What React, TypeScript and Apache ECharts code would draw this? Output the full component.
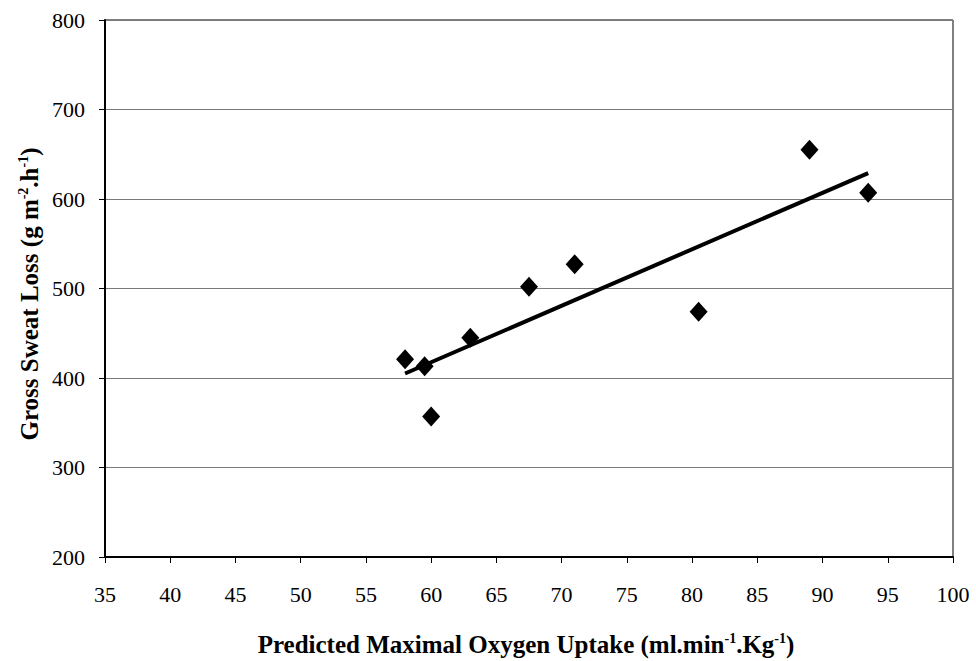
import React, { useEffect, useRef } from "react";
import * as echarts from "echarts";

const vo2Values = [58, 59.5, 60, 63, 67.5, 71, 80.5, 89, 93.5];
const sweatValues = [421, 413, 357, 445, 502, 527, 474, 655, 607];
const trendX = [58, 93.5];
const trendY = [405, 629];
const xTitle = "Predicted Maximal Oxygen Uptake (ml.min{sup|-1}.Kg{sup|-1})";
const yTitle = "Gross Sweat Loss (g m{sup|-2}.h{sup|-1})";

const FONT = "'Liberation Serif', 'Times New Roman', serif";

export default function App() {
  const ref = useRef<HTMLDivElement>(null);
  useEffect(() => {
    if (!ref.current) return;
    const chart = echarts.init(ref.current, undefined, { renderer: "svg" });
    const points = vo2Values.map((v, i) => [v, sweatValues[i]]);
    const trend = trendX.map((v, i) => [v, trendY[i]]);
    const supStyle = { fontSize: 14, fontWeight: "bold", fontFamily: FONT, verticalAlign: "top", fill: "#000" };
    chart.setOption({
      animation: false,
      backgroundColor: "#fff",
      grid: {
        left: 105,
        top: 20,
        right: 23,
        bottom: 104,
        show: true,
        borderColor: "#000",
        borderWidth: 1,
      },
      xAxis: {
        type: "value",
        min: 35,
        max: 100,
        interval: 5,
        axisLine: { show: true, onZero: false, lineStyle: { color: "#000", width: 2 } },
        axisTick: { show: true, inside: false, length: 6, lineStyle: { color: "#000", width: 1 } },
        axisLabel: { color: "#000", fontFamily: FONT, fontSize: 22, margin: 26 },
        splitLine: { show: false },
      },
      yAxis: {
        type: "value",
        min: 200,
        max: 800,
        interval: 100,
        axisLine: { show: true, onZero: false, lineStyle: { color: "#000", width: 2 } },
        axisTick: { show: true, inside: false, length: 6, lineStyle: { color: "#000", width: 1 } },
        axisLabel: { color: "#000", fontFamily: FONT, fontSize: 22, margin: 20 },
        splitLine: { show: true, lineStyle: { color: "#7a7a7a", width: 1 } },
      },
      series: [
        {
          type: "line",
          data: trend,
          symbol: "none",
          lineStyle: { color: "#000", width: 4 },
          z: 2,
        },
        {
          type: "scatter",
          data: points,
          symbol: "diamond",
          symbolSize: [18, 20],
          itemStyle: { color: "#000", opacity: 1 },
          z: 3,
        },
      ],
      graphic: [
        {
          type: "text",
          x: 526,
          y: 644,
          style: {
            text: xTitle,
            fontFamily: FONT,
            fontWeight: "bold",
            fontSize: 25,
            fill: "#000",
            align: "center",
            verticalAlign: "middle",
            rich: { sup: supStyle },
          },
        },
        {
          type: "text",
          x: 29,
          y: 294,
          rotation: Math.PI / 2,
          style: {
            text: yTitle,
            fontFamily: FONT,
            fontWeight: "bold",
            fontSize: 25,
            fill: "#000",
            align: "center",
            verticalAlign: "middle",
            rich: { sup: supStyle },
          },
        },
      ],
    });
    return () => chart.dispose();
  }, []);
  return (
    <div
      ref={ref}
      style={{ position: "fixed", left: 0, top: 0, width: 976, height: 661 }}
    />
  );
}
